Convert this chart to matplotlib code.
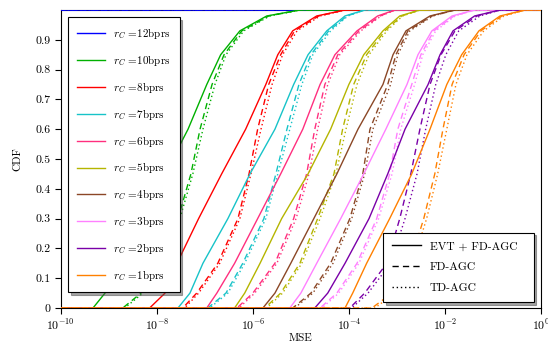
import matplotlib.pyplot as plt
import numpy as np
from matplotlib.lines import Line2D

plt.rcParams['font.family'] = 'serif'
plt.rcParams['font.serif'] = ['cmr10']
plt.rcParams['mathtext.fontset'] = 'cm'
plt.rcParams['axes.formatter.use_mathtext'] = True
plt.rcParams['font.size'] = 8

# CDF levels at which the curves were read
cdf_levels = np.array([0, 0.05, 0.15, 0.3, 0.45, 0.6, 0.75, 0.85, 0.93, 0.98, 1.0])

rates = ['12', '10', '8', '7', '6', '5', '4', '3', '2', '1']
colors = ['#0000ff', '#00b000', '#ff0000', '#17c3c8', '#ff2f7e',
          '#b5b500', '#8b4726', '#ff80ff', '#7a00a8', '#ff8000']

# log10(MSE) at cdf_levels: EVT + FD-AGC / FD-AGC / TD-AGC
evt = {
    '12': [-12.0, -11.9, -11.8, -11.6, -11.5, -11.4, -11.2, -11.1, -10.9, -10.6, -10.2],
    '10': [-9.33, -9.08, -8.77, -8.31, -7.83, -7.35, -6.96, -6.67, -6.27, -5.71, -5.02],
    '8': [-8.15, -7.83, -7.58, -7.13, -6.65, -6.15, -5.73, -5.48, -5.17, -4.67, -4.08],
    '7': [-7.56, -7.31, -7.04, -6.52, -6.06, -5.54, -5.15, -4.85, -4.46, -4.08, -3.67],
    '6': [-6.96, -6.75, -6.38, -5.90, -5.42, -4.96, -4.60, -4.29, -3.83, -3.40, -3.04],
    '5': [-6.38, -6.17, -5.85, -5.40, -4.85, -4.38, -4.00, -3.69, -3.29, -2.94, -2.52],
    '4': [-5.79, -5.54, -5.21, -4.73, -4.25, -3.81, -3.29, -3.08, -2.81, -2.31, -1.79],
    '3': [-5.23, -5.00, -4.67, -4.17, -3.69, -3.23, -2.79, -2.56, -2.27, -1.85, -1.38],
    '2': [-4.71, -4.44, -4.08, -3.58, -3.19, -2.83, -2.35, -2.10, -1.83, -1.38, -0.85],
    '1': [-4.08, -3.92, -3.63, -3.15, -2.69, -2.31, -1.96, -1.65, -1.29, -0.85, -0.33],
}
fd = {
    '12': [-12.0, -11.9, -11.8, -11.6, -11.5, -11.4, -11.2, -11.1, -10.9, -10.6, -10.2],
    '10': [-8.71, -8.33, -7.94, -7.56, -7.29, -7.10, -6.85, -6.60, -6.23, -5.67, -5.02],
    '8': [-7.46, -7.17, -6.73, -6.31, -6.08, -5.90, -5.67, -5.42, -5.13, -4.63, -4.08],
    '7': [-6.94, -6.56, -6.21, -5.77, -5.52, -5.29, -5.04, -4.79, -4.42, -4.04, -3.67],
    '6': [-6.33, -6.00, -5.54, -5.15, -4.88, -4.71, -4.50, -4.23, -3.79, -3.35, -3.04],
    '5': [-5.75, -5.42, -5.02, -4.65, -4.31, -4.13, -3.90, -3.63, -3.25, -2.90, -2.52],
    '4': [-5.17, -4.79, -4.38, -3.98, -3.71, -3.56, -3.19, -3.02, -2.77, -2.27, -1.79],
    '3': [-4.60, -4.25, -3.83, -3.42, -3.15, -2.98, -2.69, -2.50, -2.23, -1.81, -1.38],
    '2': [-3.98, -3.67, -3.21, -2.94, -2.71, -2.52, -2.31, -2.08, -1.79, -1.33, -0.85],
    '1': [-3.52, -3.10, -2.73, -2.44, -2.21, -2.04, -1.85, -1.60, -1.25, -0.81, -0.33],
}
td = {
    '12': [-12.0, -11.9, -11.8, -11.6, -11.5, -11.4, -11.2, -11.1, -10.9, -10.6, -10.2],
    '10': [-8.67, -8.29, -7.90, -7.52, -7.25, -7.04, -6.79, -6.56, -6.19, -5.65, -5.02],
    '8': [-7.42, -7.13, -6.69, -6.27, -6.04, -5.83, -5.60, -5.38, -5.08, -4.60, -4.08],
    '7': [-6.90, -6.52, -6.17, -5.73, -5.48, -5.23, -4.98, -4.75, -4.38, -4.02, -3.67],
    '6': [-6.29, -5.96, -5.50, -5.10, -4.83, -4.65, -4.44, -4.19, -3.75, -3.33, -3.04],
    '5': [-5.71, -5.38, -4.98, -4.60, -4.27, -4.06, -3.83, -3.58, -3.21, -2.88, -2.52],
    '4': [-5.13, -4.75, -4.33, -3.94, -3.67, -3.50, -3.13, -2.98, -2.73, -2.25, -1.79],
    '3': [-4.56, -4.21, -3.79, -3.38, -3.10, -2.92, -2.63, -2.46, -2.19, -1.79, -1.38],
    '2': [-3.94, -3.60, -3.13, -2.83, -2.58, -2.40, -2.19, -1.98, -1.71, -1.27, -0.85],
    '1': [-3.46, -3.04, -2.67, -2.38, -2.15, -1.96, -1.77, -1.54, -1.19, -0.77, -0.33],
}

fig, ax = plt.subplots(figsize=(5.48, 3.51), dpi=100)
fig.subplots_adjust(left=0.111, right=0.987, bottom=0.1225, top=0.9715)

y = np.concatenate([[0], cdf_levels, [1]])
handles = []
for r, c in zip(rates, colors):
    for data, ls in ((evt, '-'), (fd, (0, (4.5, 3))), (td, (0, (1, 2)))):
        x = 10.0 ** np.concatenate([[-12], data[r], [1]])
        ln, = ax.plot(x, y, color=c, lw=1.0, linestyle=ls, zorder=3)
        if ls == '-':
            handles.append(ln)

ax.set_xscale('log')
ax.set_xlim(1e-10, 1)
ax.set_ylim(0, 1)
ax.set_xticks([1e-10, 1e-8, 1e-6, 1e-4, 1e-2, 1])
ax.minorticks_off()
ax.set_yticks(np.arange(0, 10) / 10)
ax.set_yticklabels(['0'] + ['0.%d' % i for i in range(1, 10)])
ax.tick_params(direction='out', length=4, width=0.8, labelsize=8.5)
ax.set_xlabel('MSE', labelpad=0)
ax.set_ylabel('CDF', labelpad=9)

leg1 = ax.legend(handles, [r'$r_C$ =%sbprs' % r for r in rates],
                 loc='upper left', bbox_to_anchor=(0.0146, 0.976), borderaxespad=0,
                 fancybox=False, shadow=True, edgecolor='black', framealpha=1,
                 labelspacing=1.07, handlelength=2.5, borderpad=0.8)
leg1.get_frame().set_linewidth(0.8)
leg1.set_zorder(5)
ax.add_artist(leg1)

style_handles = [Line2D([], [], color='black', lw=1.0, linestyle='-'),
                 Line2D([], [], color='black', lw=1.0, linestyle=(0, (4.5, 3))),
                 Line2D([], [], color='black', lw=1.0, linestyle=(0, (1, 2)))]
leg2 = ax.legend(style_handles, ['EVT + FD-AGC  ', 'FD-AGC', 'TD-AGC'],
                 loc='lower right', bbox_to_anchor=(0.985, 0.02), borderaxespad=0,
                 fancybox=False, shadow=True, edgecolor='black', framealpha=1,
                 labelspacing=0.95, handlelength=2.5, borderpad=0.75,
                 prop={'size': 8.3})
leg2.get_frame().set_linewidth(0.8)
leg2.set_zorder(5)

fig.savefig('out.png', dpi=100)
